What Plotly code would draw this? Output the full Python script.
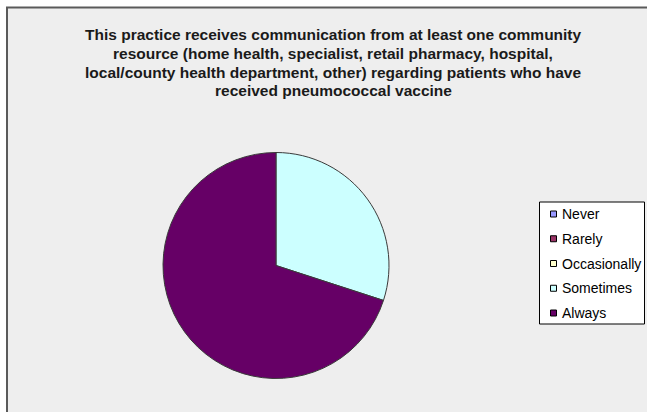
import plotly.graph_objects as go

# Response categories, counts and slice colours
categories = ["Never", "Rarely", "Occasionally", "Sometimes", "Always"]
counts = [0, 0, 0, 3, 7]
colors = ["#9999FF", "#993366", "#FFFFCC", "#CCFFFF", "#660066"]

title_lines = [
    "This practice receives communication from at least one community",
    "resource (home health, specialist, retail pharmacy, hospital,",
    "local/county health department, other) regarding patients who have",
    "received pneumococcal vaccine",
]

W, H = 647, 412
FONT = "Liberation Sans, Arial, sans-serif"


def px(x):
    return x / W


def py(y):
    return 1 - y / H


fig = go.Figure()

fig.add_trace(go.Pie(
    labels=categories,
    values=counts,
    marker=dict(colors=colors, line=dict(color="#3a3a3a", width=1)),
    sort=False,
    direction="clockwise",
    rotation=0,
    textinfo="none",
    hoverinfo="label+value+percent",
    showlegend=False,
    domain=dict(x=[px(163), px(389)], y=[py(378.5), py(152.5)]),
))

shapes = [
    # chart area
    dict(type="rect", xref="paper", yref="paper", layer="below",
         x0=px(7), x1=px(W + 5), y0=py(H + 5), y1=py(7.5),
         fillcolor="#EEEEEE", line=dict(color="#5a5a5a", width=2)),
    # legend frame
    dict(type="rect", xref="paper", yref="paper", layer="above",
         x0=px(539.5), x1=px(644.5), y0=py(324), y1=py(202),
         fillcolor="#FFFFFF", line=dict(color="#000000", width=1)),
]

annotations = []

# title, one annotation per line for tight line spacing
title_y0, title_step = 35, 18.5
for i, line in enumerate(title_lines):
    annotations.append(dict(text="<b>%s</b>" % line, xref="paper", yref="paper",
                            x=px(333), y=py(title_y0 + i * title_step),
                            xanchor="center", yanchor="middle",
                            showarrow=False,
                            font=dict(family=FONT, size=15.5, color="#1a1a1a")))

# legend entries
item_y0, item_step = 214, 24.75
for i, (name, col) in enumerate(zip(categories, colors)):
    yc = item_y0 + i * item_step
    shapes.append(dict(type="rect", xref="paper", yref="paper", layer="above",
                       x0=px(550.5), x1=px(556.5), y0=py(yc + 3), y1=py(yc - 3),
                       fillcolor=col, line=dict(color="#000000", width=1)))
    annotations.append(dict(text=name, xref="paper", yref="paper",
                            x=px(560), y=py(yc), xanchor="left", yanchor="middle",
                            showarrow=False,
                            font=dict(family=FONT, size=14, color="#000000")))

fig.update_layout(
    width=W, height=H,
    margin=dict(l=0, r=0, t=0, b=0),
    paper_bgcolor="#FFFFFF",
    plot_bgcolor="#FFFFFF",
    shapes=shapes,
    annotations=annotations,
)

fig.write_html("out.html")
